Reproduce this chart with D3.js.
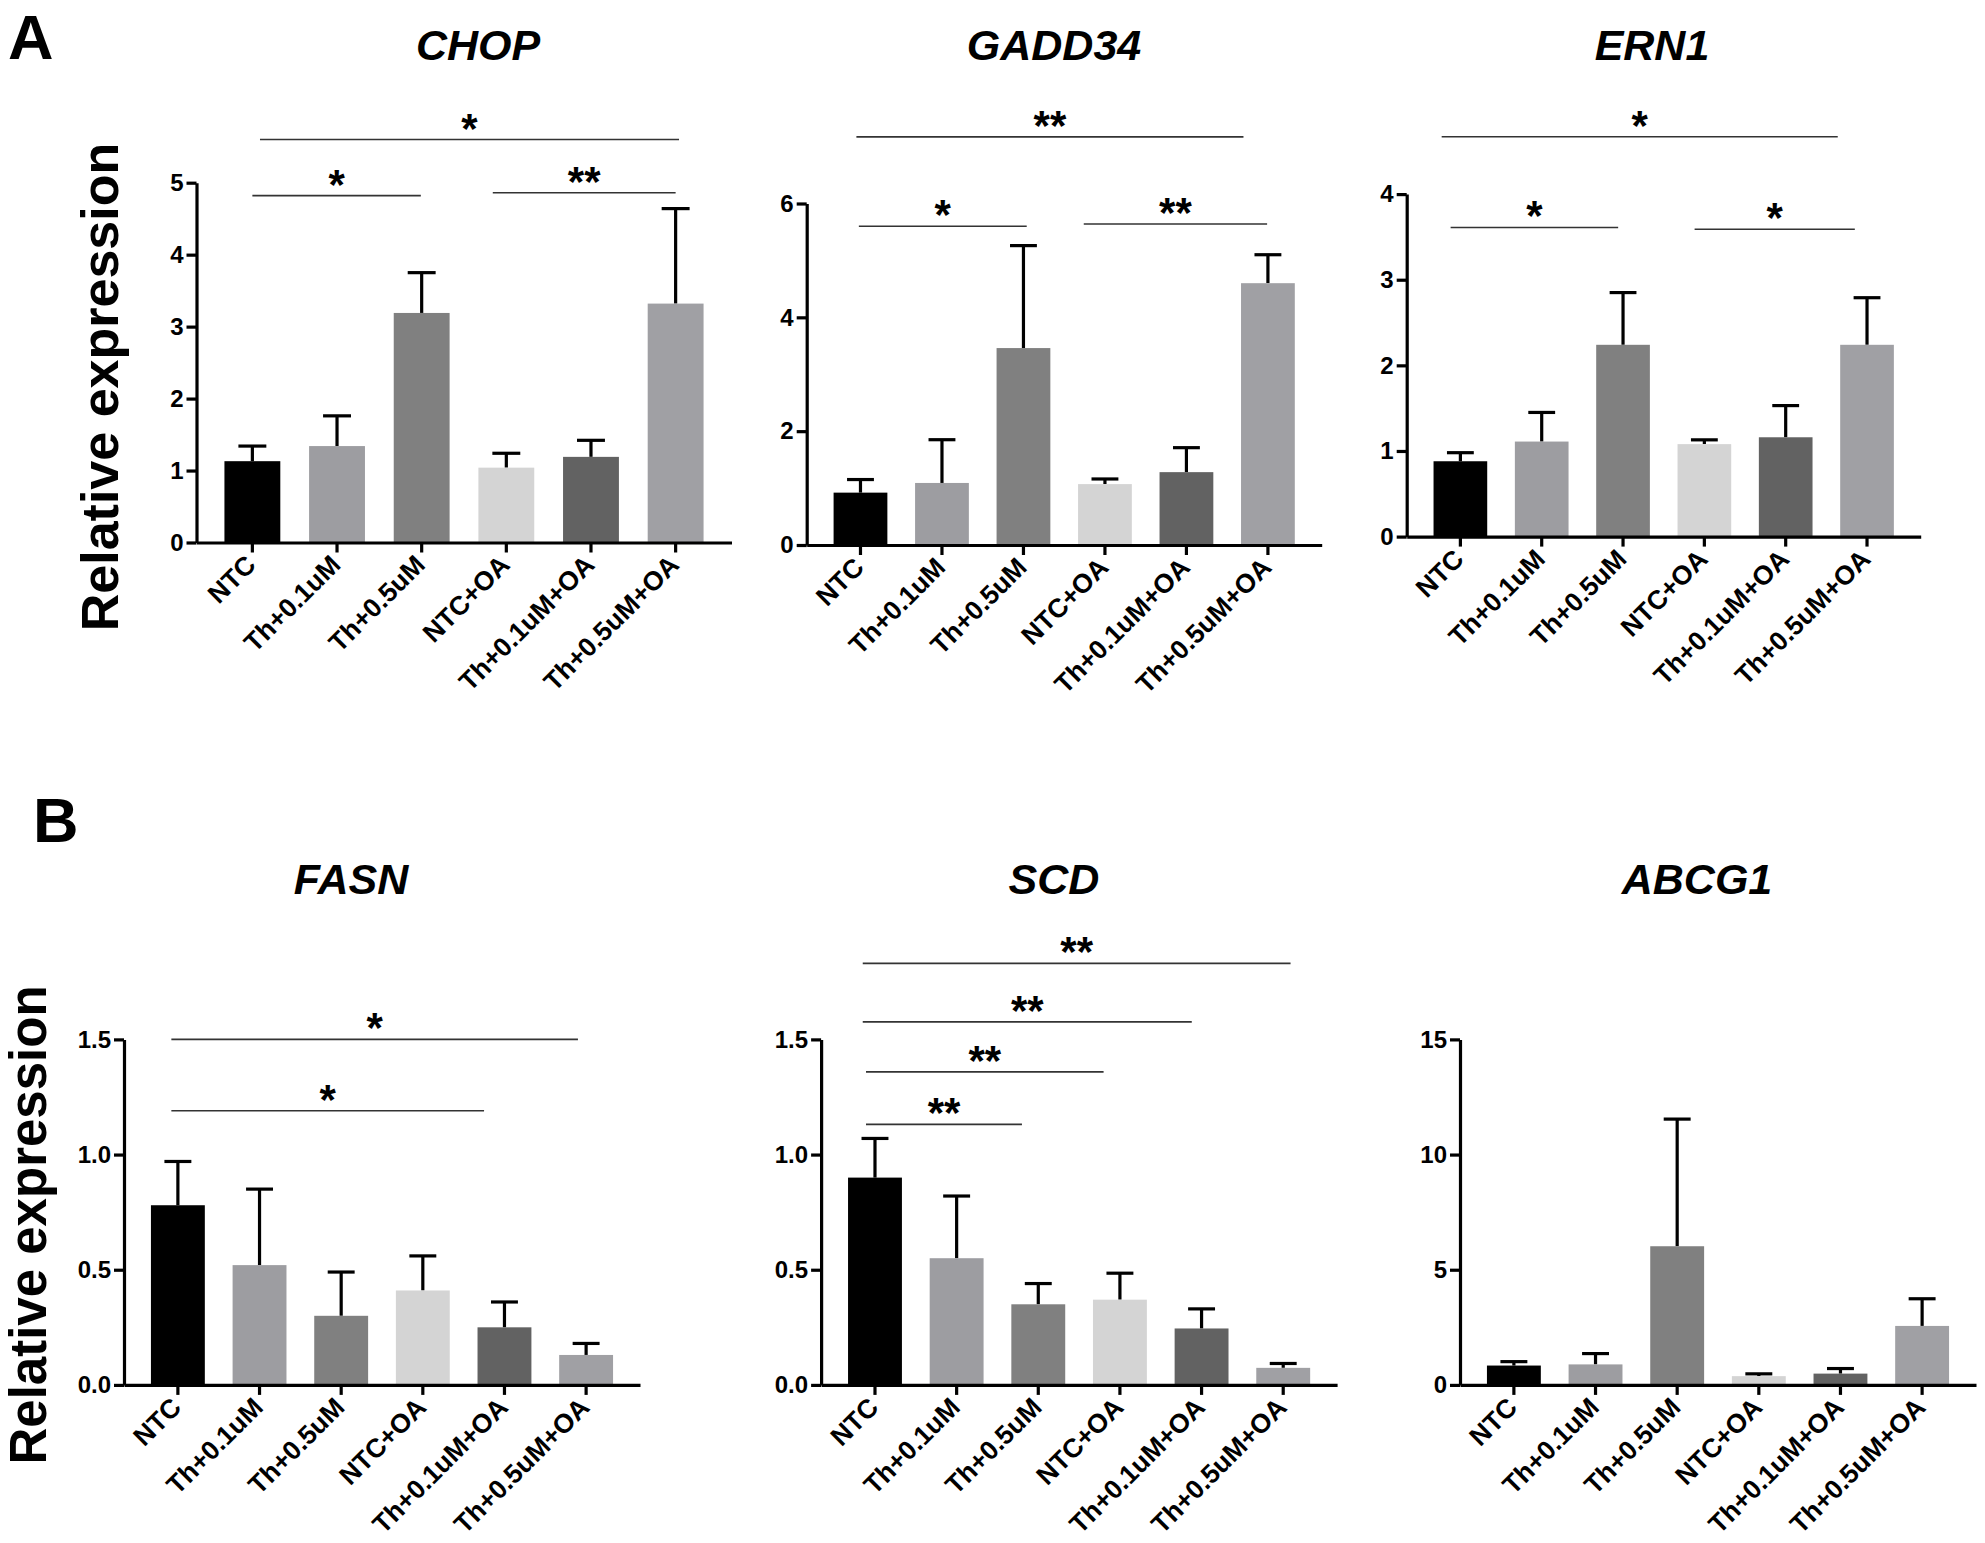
<!DOCTYPE html>
<html><head><meta charset="utf-8">
<script src="https://cdn.jsdelivr.net/npm/d3@7/dist/d3.min.js"></script>
<style>
body{margin:0;background:#fff}
text{font-family:"Liberation Sans",Arial,Helvetica,sans-serif}
</style>
</head><body>
<svg id="chart" width="1985" height="1543"></svg>
<script>
// ---------- DATA ----------
const categories = ["NTC","Th+0.1uM","Th+0.5uM","NTC+OA","Th+0.1uM+OA","Th+0.5uM+OA"];
const barColors = ["#000000","#9d9da1","#808080","#d4d4d4","#626262","#a0a0a4"];

const chopMean   = [1.13, 1.34, 3.19, 1.04, 1.19, 3.32];
const chopErr    = [0.21, 0.42, 0.56, 0.20, 0.23, 1.32];
const gadd34Mean = [0.92, 1.09, 3.46, 1.07, 1.28, 4.60];
const gadd34Err  = [0.23, 0.76, 1.80, 0.09, 0.43, 0.50];
const ern1Mean   = [0.88, 1.11, 2.24, 1.08, 1.16, 2.24];
const ern1Err    = [0.10, 0.34, 0.61, 0.05, 0.37, 0.55];
const fasnMean   = [0.78, 0.52, 0.30, 0.41, 0.25, 0.13];
const fasnErr    = [0.19, 0.33, 0.19, 0.15, 0.11, 0.05];
const scdMean    = [0.90, 0.55, 0.35, 0.37, 0.245, 0.074];
const scdErr     = [0.17, 0.27, 0.09, 0.115, 0.085, 0.019];
const abcg1Mean  = [0.84, 0.89, 6.02, 0.38, 0.49, 2.56];
const abcg1Err   = [0.17, 0.47, 5.52, 0.10, 0.22, 1.18];

const chopTicks   = [0,1,2,3,4,5];
const gadd34Ticks = [0,2,4,6];
const ern1Ticks   = [0,1,2,3,4];
const fasnTicks   = [0,0.5,1.0,1.5];
const scdTicks    = [0,0.5,1.0,1.5];
const abcg1Ticks  = [0,5,10,15];

// significance brackets: from/to = category index, level = data value
const chopSig   = [{from:0.09,to:5.04,level:5.60,label:"*"},{from:0,to:1.99,level:4.82,label:"*"},{from:2.84,to:5.0,level:4.86,label:"**"}];
const gadd34Sig = [{from:-0.05,to:4.70,level:7.17,label:"**"},{from:-0.02,to:2.04,level:5.60,label:"*"},{from:2.74,to:4.99,level:5.64,label:"**"}];
const ern1Sig   = [{from:-0.23,to:4.64,level:4.67,label:"*"},{from:-0.12,to:1.94,level:3.61,label:"*"},{from:2.88,to:4.85,level:3.59,label:"*"}];
const fasnSig   = [{from:-0.08,to:4.90,level:1.50,label:"*"},{from:-0.08,to:3.75,level:1.19,label:"*"}];
const scdSig    = [{from:-0.15,to:5.09,level:1.83,label:"**"},{from:-0.15,to:3.88,level:1.576,label:"**"},{from:-0.11,to:2.80,level:1.359,label:"**"},{from:-0.11,to:1.80,level:1.131,label:"**"}];
const abcg1Sig  = [];

// ---------- LAYOUT ----------
const panels = [
  {title:"CHOP",   mean:chopMean,   err:chopErr,   ticks:chopTicks,   sig:chopSig,   fmt:d3.format("d"),   x0:196.5, w:535, y0:542.5, y1:182.7, ty:60},
  {title:"GADD34", mean:gadd34Mean, err:gadd34Err, ticks:gadd34Ticks, sig:gadd34Sig, fmt:d3.format("d"),   x0:806.7, w:515, y0:545.0, y1:203.5, ty:60},
  {title:"ERN1",   mean:ern1Mean,   err:ern1Err,   ticks:ern1Ticks,   sig:ern1Sig,   fmt:d3.format("d"),   x0:1406.7,w:514, y0:536.6, y1:194.1, ty:60},
  {title:"FASN",   mean:fasnMean,   err:fasnErr,   ticks:fasnTicks,   sig:fasnSig,   fmt:d3.format(".1f"), x0:124,   w:516, y0:1384.9,y1:1039.4,ty:894},
  {title:"SCD",    mean:scdMean,    err:scdErr,    ticks:scdTicks,    sig:scdSig,    fmt:d3.format(".1f"), x0:821.1, w:516, y0:1384.9,y1:1039.4,ty:894},
  {title:"ABCG1",  mean:abcg1Mean,  err:abcg1Err,  ticks:abcg1Ticks,  sig:abcg1Sig,  fmt:d3.format("d"),   x0:1460,  w:516, y0:1384.9,y1:1039.4,ty:894}
];
const titleX = [478, 1054, 1652, 351, 1054, 1697];

const svg = d3.select("#chart");
svg.append("rect").attr("width",1985).attr("height",1543).attr("fill","#fff");

panels.forEach((p, pi) => {
  const x = d3.scaleBand().domain(categories).range([p.x0, p.x0 + p.w]).paddingInner(0.34).paddingOuter(0.33);
  const y = d3.scaleLinear().domain([0, p.ticks[p.ticks.length-1]]).range([p.y0, p.y1]);
  const bw = x.bandwidth();
  const cx = i => x(categories[0]) + bw/2 + i * x.step();
  const g = svg.append("g");

  // title
  g.append("text").attr("x", titleX[pi]).attr("y", p.ty)
    .attr("text-anchor","middle").attr("font-size",43).attr("font-weight","bold").attr("font-style","italic")
    .text(p.title);

  // error bars (upper only)
  const rows = categories.map((c,i)=>({c, i, m:p.mean[i], e:p.err[i]}));
  g.selectAll(".eb").data(rows).enter().append("line")
    .attr("x1", d=>x(d.c)+bw/2).attr("x2", d=>x(d.c)+bw/2)
    .attr("y1", d=>y(d.m)).attr("y2", d=>y(d.m+d.e))
    .attr("stroke","#000").attr("stroke-width",3.2);
  g.selectAll(".cap").data(rows).enter().append("line")
    .attr("x1", d=>x(d.c)+bw/4).attr("x2", d=>x(d.c)+3*bw/4)
    .attr("y1", d=>y(d.m+d.e)).attr("y2", d=>y(d.m+d.e))
    .attr("stroke","#000").attr("stroke-width",3.2);

  // bars
  g.selectAll(".bar").data(rows).enter().append("rect")
    .attr("x", d=>x(d.c)).attr("width", bw)
    .attr("y", d=>y(d.m)).attr("height", d=>p.y0 - y(d.m))
    .attr("fill", d=>barColors[d.i]);

  // axes
  const ya = g.append("g").attr("transform",`translate(${p.x0},0)`)
    .call(d3.axisLeft(y).tickValues(p.ticks).tickFormat(p.fmt).tickSize(10).tickSizeOuter(0).tickPadding(3));
  const xa = g.append("g").attr("transform",`translate(0,${p.y0})`)
    .call(d3.axisBottom(x).tickSize(10).tickSizeOuter(0).tickFormat(""));
  [ya, xa].forEach(a => {
    a.select(".domain").attr("stroke","#000").attr("stroke-width",3.2);
    a.selectAll(".tick line").attr("stroke","#000").attr("stroke-width",3.2);
  });
  ya.selectAll("text").attr("font-size",24).attr("font-weight","bold").attr("fill","#000")
    .attr("font-family",'"Liberation Sans",Arial,sans-serif');

  // rotated category labels
  g.selectAll(".xl").data(rows).enter().append("text")
    .attr("transform", d=>`translate(${x(d.c)+bw/2+5},${p.y0+24}) rotate(-45)`)
    .attr("text-anchor","end").attr("font-size",26.5).attr("font-weight","bold")
    .text(d=>d.c);

  // significance brackets
  p.sig.forEach(s => {
    const yy = y(s.level);
    g.append("line").attr("x1", cx(s.from)).attr("x2", cx(s.to)).attr("y1", yy).attr("y2", yy)
      .attr("stroke","#333").attr("stroke-width",1.6);
    g.append("text").attr("x",(cx(s.from)+cx(s.to))/2).attr("y", yy+3)
      .attr("text-anchor","middle").attr("font-size",42).attr("font-weight","bold").text(s.label);
  });
});

// y-axis titles and panel letters
svg.append("text").attr("transform","translate(118,387) rotate(-90)").attr("text-anchor","middle")
  .attr("font-size",52).attr("font-weight","bold").text("Relative expression");
svg.append("text").attr("transform","translate(46,1225) rotate(-90)").attr("text-anchor","middle")
  .attr("font-size",51).attr("font-weight","bold").text("Relative expression");
svg.append("text").attr("x",8).attr("y",59).attr("font-size",63).attr("font-weight","bold").text("A");
svg.append("text").attr("x",33).attr("y",842).attr("font-size",63).attr("font-weight","bold").text("B");
</script>
</body></html>
